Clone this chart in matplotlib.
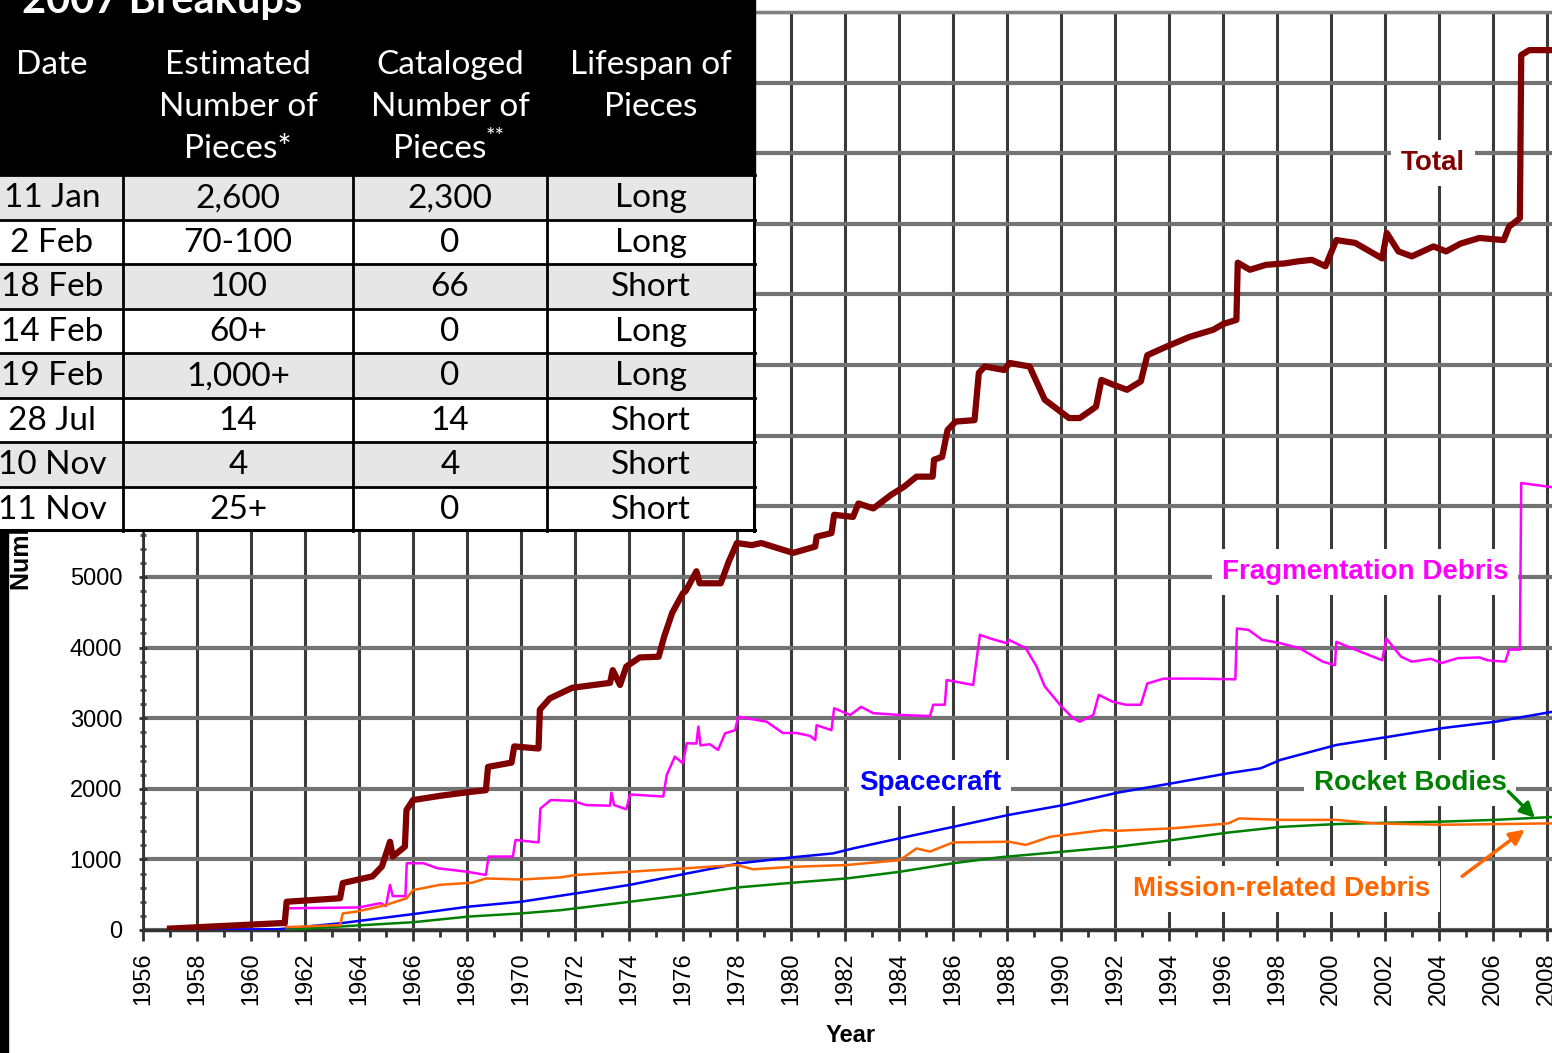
import matplotlib
matplotlib.use("Agg")
import matplotlib.pyplot as plt
from matplotlib.patches import Rectangle
from matplotlib.ticker import MultipleLocator

# catalogued objects in orbit (year, count)
total_year = [1957.0, 1961.25, 1961.32, 1963.3, 1963.4, 1964.5, 1964.85, 1965.15, 1965.25,
              1965.7, 1965.76, 1966.0, 1967.0, 1968.0, 1968.7, 1968.78, 1969.65, 1969.75,
              1970.65, 1970.7, 1971.07, 1971.9, 1973.3, 1973.4, 1973.67, 1973.9, 1974.4,
              1975.1, 1975.3, 1975.6, 1976.0, 1976.1, 1976.5, 1976.62, 1977.4, 1977.7,
              1978.0, 1978.55, 1978.9, 1980.08, 1980.9, 1980.95, 1981.5, 1981.6, 1982.3,
              1982.5, 1983.05, 1983.7, 1984.2, 1984.65, 1985.25, 1985.3, 1985.6, 1985.8,
              1986.1, 1986.8, 1986.96, 1987.18, 1987.9, 1988.1, 1988.84, 1989.4, 1990.3,
              1990.7, 1991.3, 1991.5, 1991.95, 1992.45, 1992.96, 1993.2, 1993.9, 1994.77,
              1995.64, 1996.0, 1996.5, 1996.55, 1997.0, 1997.6, 1998.3, 1998.8, 1999.3,
              1999.8, 2000.2, 2000.9, 2001.9, 2002.07, 2002.5, 2003.0, 2003.8, 2004.27,
              2004.8, 2005.5, 2006.4, 2006.6, 2007.0, 2007.05, 2007.35, 2008.2]
total_count = [20, 100, 400, 450, 665, 760, 900, 1250, 1040,
               1180, 1700, 1840, 1900, 1950, 1980, 2310, 2370, 2600,
               2570, 3120, 3280, 3430, 3500, 3680, 3470, 3730, 3860,
               3870, 4150, 4490, 4770, 4800, 5080, 4910, 4910, 5220,
               5480, 5450, 5480, 5340, 5430, 5570, 5620, 5880, 5850,
               6040, 5970, 6160, 6280, 6420, 6420, 6660, 6700, 7080,
               7200, 7220, 7890, 7980, 7930, 8030, 7980, 7510, 7250,
               7250, 7410, 7790, 7720, 7650, 7770, 8140, 8260, 8400,
               8500, 8580, 8640, 9450, 9350, 9420, 9440, 9470, 9490,
               9400, 9770, 9730, 9510, 9870, 9610, 9540, 9680, 9610,
               9720, 9800, 9770, 9960, 10080, 12390, 12460, 12460]

frag_year = [1957.0, 1961.3, 1961.32, 1964.0, 1964.8, 1965.0, 1965.15, 1965.25, 1965.72,
             1965.77, 1966.4, 1966.9, 1968.0, 1968.7, 1968.8, 1969.7, 1969.8, 1970.65,
             1970.72, 1971.1, 1971.9, 1972.4, 1973.3, 1973.35, 1973.45, 1973.9, 1974.04,
             1975.27, 1975.4, 1975.7, 1976.0, 1976.14, 1976.5, 1976.57, 1976.65, 1977.0,
             1977.3, 1977.56, 1977.93, 1978.05, 1979.1, 1979.7, 1980.2, 1980.7, 1980.9,
             1980.95, 1981.5, 1981.6, 1982.2, 1982.6, 1983.05, 1984.04, 1985.15, 1985.27,
             1985.7, 1985.77, 1986.75, 1987.0, 1987.37, 1988.0, 1988.07, 1988.7, 1989.1,
             1989.4, 1990.03, 1990.45, 1990.7, 1991.2, 1991.4, 1991.9, 1992.4, 1992.96,
             1993.2, 1993.8, 1995.05, 1996.46, 1996.52, 1996.95, 1997.45, 1998.14, 1998.84,
             1999.7, 2000.15, 2000.2, 2001.1, 2001.9, 2002.05, 2002.6, 2003.0, 2003.7,
             2004.1, 2004.7, 2005.5, 2005.8, 2006.46, 2006.6, 2007.0, 2007.05, 2008.2]
frag_count = [10, 10, 307, 320, 380, 340, 640, 480, 480,
              945, 945, 875, 825, 780, 1040, 1040, 1275, 1240,
              1720, 1840, 1830, 1770, 1760, 1945, 1770, 1710, 1920,
              1890, 2195, 2455, 2360, 2645, 2640, 2880, 2615, 2630,
              2550, 2785, 2830, 3020, 2950, 2790, 2790, 2750, 2690,
              2900, 2830, 3140, 3045, 3160, 3070, 3045, 3030, 3190,
              3190, 3540, 3470, 4180, 4130, 4060, 4110, 3990, 3730,
              3450, 3160, 3000, 2950, 3045, 3330, 3235, 3190, 3190,
              3490, 3560, 3560, 3550, 4270, 4250, 4110, 4060, 3990,
              3800, 3750, 4080, 3940, 3820, 4130, 3870, 3800, 3840,
              3780, 3850, 3860, 3820, 3800, 3970, 3970, 6330, 6270]

sc_year = [1957.0, 1961.0, 1963.3, 1966.0, 1968.05, 1970.0, 1972.06, 1974.04, 1976.14,
           1978.1, 1980.08, 1981.56, 1982.3, 1984.04, 1986.0, 1988.07, 1990.1, 1992.1,
           1994.15, 1996.2, 1997.4, 1998.14, 2000.2, 2002.2, 2004.15, 2006.1, 2008.2]
sc_count = [0, 10, 95, 225, 330, 400, 520, 640, 800,
            945, 1030, 1085, 1155, 1300, 1460, 1630, 1770, 1945,
            2080, 2220, 2290, 2410, 2620, 2740, 2860, 2950, 3090]

rb_year = [1961.3, 1963.3, 1966.0, 1968.05, 1970.0, 1971.45, 1974.04, 1976.14, 1978.1,
           1980.08, 1982.06, 1984.04, 1986.0, 1987.74, 1990.1, 1992.1, 1994.15, 1996.2,
           1998.14, 2000.2, 2002.2, 2004.15, 2006.1, 2008.2]
rb_count = [0, 50, 110, 190, 235, 280, 400, 500, 605,
            670, 730, 825, 945, 1030, 1110, 1180, 1275, 1380,
            1460, 1500, 1520, 1535, 1560, 1600]

mrd_year = [1961.3, 1963.3, 1963.4, 1963.9, 1964.5, 1965.0, 1965.77, 1966.0, 1967.0,
            1968.2, 1968.7, 1970.0, 1971.45, 1972.06, 1974.04, 1976.14, 1977.99, 1978.6,
            1980.08, 1982.06, 1984.04, 1984.3, 1984.65, 1985.15, 1986.0, 1988.07, 1988.7,
            1989.6, 1991.6, 1992.1, 1994.15, 1996.2, 1996.6, 1998.14, 2000.2, 2001.6,
            2004.15, 2008.2]
mrd_count = [40, 70, 235, 260, 310, 355, 450, 565, 640,
             670, 730, 715, 745, 780, 825, 875, 920, 860,
             895, 920, 990, 1060, 1155, 1110, 1240, 1250, 1205,
             1320, 1415, 1405, 1440, 1510, 1580, 1560, 1560, 1510,
             1490, 1510]

# 2007 breakups table
tab_dates = ["11 Jan", "2 Feb", "18 Feb", "14 Feb", "19 Feb", "28 Jul", "10 Nov", "11 Nov"]
tab_estimated = ["2,600", "70-100", "100", "60+", "1,000+", "14", "4", "25+"]
tab_cataloged = ["2,300", "0", "66", "0", "0", "14", "4", "0"]
tab_lifespan = ["Long", "Long", "Short", "Long", "Long", "Short", "Short", "Short"]
tab_headers = [["Date"], ["Estimated", "Number of", "Pieces*"],
               ["Cataloged", "Number of", "Pieces"], ["Lifespan of", "Pieces"]]

W, H = 1552, 1053
fig = plt.figure(figsize=(W / 100, H / 100), dpi=100)
fig.patch.set_facecolor("white")

ax = fig.add_axes([143 / W, 123 / H, 1409 / W, 918 / H])
ax.set_xlim(1956, 2008.19)
ax.set_ylim(0, 13000)
ax.set_axisbelow(True)
ax.xaxis.set_major_locator(MultipleLocator(2))
ax.xaxis.set_minor_locator(MultipleLocator(1))
ax.yaxis.set_major_locator(MultipleLocator(1000))
ax.yaxis.set_minor_locator(MultipleLocator(200))
ax.grid(axis="y", which="major", color="#737373", lw=3)
ax.grid(axis="x", which="major", color="#3a3a3a", lw=2.2)
ax.spines["right"].set_visible(False)
ax.spines["top"].set_color("#808080")
ax.spines["top"].set_linewidth(2.5)
ax.spines["left"].set_color("#333333")
ax.spines["left"].set_linewidth(2)
ax.spines["bottom"].set_color("#333333")
ax.spines["bottom"].set_linewidth(2.5)

ax.tick_params(axis="x", which="major", length=8, width=2, color="#333333", pad=8)
ax.tick_params(axis="x", which="minor", length=5, width=2, color="#333333")
ax.tick_params(axis="y", which="major", length=6, width=2, color="#333333",
               direction="inout", pad=12)
ax.tick_params(axis="y", which="minor", length=5, width=2, color="#555555",
               direction="inout")
ax.set_xticks(range(1956, 2009, 2))
ax.set_xticklabels([str(y) for y in range(1956, 2009, 2)], rotation=90, va="top",
                   fontsize=17, family="Liberation Sans")
ax.set_yticks(range(0, 13001, 1000))
ax.set_yticklabels([str(v) if v <= 5000 else "" for v in range(0, 13001, 1000)],
                   fontsize=17, family="Liberation Sans")

ax.text(0.502, -0.115, "Year", transform=ax.transAxes, ha="center", va="center",
        fontsize=17, fontweight="bold", family="Liberation Sans")
# y label mostly hidden behind the table, only "Num" shows below it
ax.text(-0.0859, 0.37, "Number of Objects", transform=ax.transAxes, rotation=90,
        ha="center", va="bottom", fontsize=18, fontweight="bold",
        family="Liberation Sans", clip_on=False)

ax.plot(total_year, total_count, color="#800000", lw=4.5, zorder=5, solid_joinstyle="round")
ax.plot(frag_year, frag_count, color="#ff00ff", lw=1.8, zorder=4)
ax.plot(sc_year, sc_count, color="#0000ff", lw=1.8, zorder=4)
ax.plot(rb_year, rb_count, color="#008000", lw=1.8, zorder=4)
ax.plot(mrd_year, mrd_count, color="#ff6600", lw=1.8, zorder=4)

lab_box = dict(boxstyle="square,pad=0.35", fc="white", ec="none")
lab_kw = dict(ha="center", va="center", fontsize=20, fontweight="bold",
              family="Liberation Sans", bbox=lab_box, zorder=3)
ax.text(2003.78, 10860, "Total", color="#800000", **lab_kw)
ax.text(2001.26, 5070, "Fragmentation Debris", color="#ff00ff", **lab_kw)
ax.text(1985.15, 2080, "Spacecraft", color="#0000ff", **lab_kw)
ax.text(2002.93, 2080, "Rocket Bodies", color="#008000", **lab_kw)
ax.text(1998.19, 580, "Mission-related Debris", color="#ff6600", **lab_kw)
ax.annotate("", xy=(2007.63, 1560), xytext=(2006.5, 1990),
            arrowprops=dict(arrowstyle="-|>", color="#008000", lw=2.5, mutation_scale=22),
            zorder=6)
ax.annotate("", xy=(2007.26, 1445), xytext=(2004.78, 737),
            arrowprops=dict(arrowstyle="-|>", color="#ff6600", lw=2.5, mutation_scale=22),
            zorder=6)

# black strip left of the chart (slide background)
fig.patches.append(Rectangle((0, 0), 8 / W, (H - 531) / H, transform=fig.transFigure,
                             color="black"))

# table overlay, laid out in pixel units
tw, th = 755, 531
tax = fig.add_axes([0, 1 - th / H, tw / W, th / H])
tax.set_zorder(10)
tax.set_xlim(0, tw)
tax.set_ylim(th, 0)
tax.axis("off")
head_h = 175
row_h = (th - head_h) / len(tab_dates)
col_edges = [0, 123, 353, 547, tw]
col_mid = [52, 238, 450, 651]

tax.add_patch(Rectangle((0, 0), tw, head_h, color="black", clip_on=False))
tax.text(22, 13, "2007 Breakups", color="white", fontsize=30, fontweight="bold",
         family="Lato", ha="left", va="baseline", clip_on=False)
for c, lines in enumerate(tab_headers):
    for k, line in enumerate(lines):
        tax.text(col_mid[c] if c != 2 or k < 2 else 440, 65 + 42 * k, line, color="white",
                 fontsize=24, family="Lato", ha="center", va="center")
tax.text(486, 137, "**", color="white", fontsize=16, family="Lato", ha="left", va="center")

for i in range(len(tab_dates)):
    y0 = head_h + i * row_h
    tax.add_patch(Rectangle((0, y0), tw, row_h,
                            color="#e6e6e6" if i % 2 == 0 else "white"))
    row = [tab_dates[i], tab_estimated[i], tab_cataloged[i], tab_lifespan[i]]
    for c, val in enumerate(row):
        tax.text(col_mid[c], y0 + row_h / 2 + 1, val, color="black", fontsize=24,
                 family="Lato", ha="center", va="center")
    tax.plot([0, tw], [y0, y0], color="black", lw=2, clip_on=False)
tax.plot([0, tw], [th - 1, th - 1], color="black", lw=2.2, clip_on=False)
for x in col_edges[1:-1]:
    tax.plot([x, x], [head_h, th], color="black", lw=2, clip_on=False)
tax.plot([tw - 1, tw - 1], [head_h, th], color="black", lw=2.2, clip_on=False)

fig.savefig("out.png", dpi=100)
